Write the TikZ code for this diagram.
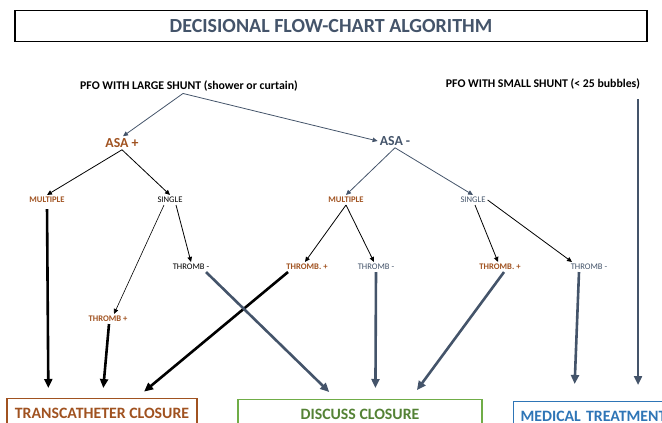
\documentclass[tikz,border=0pt]{standalone}
\usepackage{fontspec}
\setmainfont{Carlito}
\usetikzlibrary{arrows.meta,positioning}
\definecolor{slate}{RGB}{68,84,106}
\definecolor{rust}{RGB}{160,82,32}
\definecolor{leaf}{RGB}{112,173,71}
\definecolor{leaftext}{RGB}{84,130,53}
\definecolor{ocean}{RGB}{46,117,182}

\begin{document}
\begin{tikzpicture}[
   x=1pt, y=-1pt,
   headline/.style={draw, line width=1.8pt, minimum width=632pt, minimum height=31pt,
      font=\bfseries\fontsize{20}{23}\selectfont, text=slate},
   shunt/.style={font=\bfseries\fontsize{11.8}{14}\selectfont, inner sep=2pt},
   asa/.style={font=\bfseries\fontsize{13.8}{16}\selectfont, inner sep=2pt},
   small/.style={font=\fontsize{8.6}{10}\selectfont, inner sep=2pt},
   smallbold/.style={small, font=\bfseries\fontsize{8.6}{10}\selectfont, text=rust},
   outcome/.style={draw, line width=1.2pt, anchor=north, minimum height=30pt,
      font=\bfseries\fontsize{15.8}{18}\selectfont},
   thin/.style={-{Triangle[length=5pt, width=4.5pt]}, line width=0.8pt},
   thick/.style={-{Triangle[length=9pt, width=8pt]}, line width=2.6pt},
]
\useasboundingbox (0,0) rectangle (662,423);
\clip (0,0) rectangle (662,423);

\node[headline] (title) at (331,26) {DECISIONAL FLOW-CHART ALGORITHM};

\node[shunt] (large) at (189,86) {PFO WITH LARGE SHUNT (shower or curtain)};
\node[shunt] (smallsh) at (543,84) {PFO WITH SMALL SHUNT (< 25 bubbles)};

\node[asa, text=rust] (asap) at (122,143) {ASA +};
\node[asa, text=slate] (asam) at (395,141) {ASA -};

\node[smallbold] (multL) at (47,200) {MULTIPLE};
\node[small] (singL) at (170,200) {SINGLE};
\node[smallbold] (multR) at (346,200) {MULTIPLE};
\node[small, text=slate] (singR) at (473,200) {SINGLE};

\node[smallbold] (tpA) at (108,319) {THROMB +};
\node[small] (tmA) at (191,267) {THROMB -};
\node[smallbold] (tpB) at (307,267) {THROMB. +};
\node[small, text=slate] (tmB) at (376,267) {THROMB -};
\node[smallbold] (tpC) at (500,267) {THROMB. +};
\node[small, text=slate] (tmC) at (589,267) {THROMB -};

\node[outcome, draw=rust, text=rust, minimum width=190pt] (trans) at (102,398)
   {TRANSCATHETER CLOSURE};
\node[outcome, draw=leaf, text=leaftext, minimum width=244pt] (discuss) at (360,399)
   {DISCUSS CLOSURE};
\node[outcome, draw=ocean, text=ocean, anchor=north west, text width=180pt,
   align=left, inner xsep=7pt] (medical) at (513,401) {MEDICAL TREATMENT};
\coordinate (smallend) at ([xshift=125pt]medical.north west);

% first level
\draw[thin, slate] ([xshift=-6pt]large.south) -- ([xshift=1pt]asap.north);
\draw[thin, slate] ([xshift=-6pt]large.south) -- (asam.west);
\draw[thin] (asap.south) -- (multL.north);
\draw[thin] (asap.south) -- (singL.north);
\draw[thin, slate] (asam.south) -- (multR.north);
\draw[thin, slate] (asam.south) -- (singR.north);

% second level
\draw[thin, line width=0.6pt] ([xshift=-6pt]singL.south) -- ([xshift=6pt]tpA.north);
\draw[thin] ([xshift=6pt]singL.south) -- (tmA.north);
\draw[thin] (multR.south) -- ([xshift=-2pt]tpB.north);
\draw[thin] (multR.south) -- ([xshift=-2pt]tmB.north);
\draw[thin] ([xshift=2pt]singR.south) -- ([xshift=-2pt]tpC.north);
\draw[thin] (singR.east) -- ([xshift=-17pt]tmC.north);

% outcomes
\draw[thick, shorten <=4pt, shorten >=10pt] (multL.south) -- ([xshift=42pt]trans.north west);
\draw[thick, shorten >=10pt] ([xshift=1pt]tpA.south) -- ([xshift=96pt]trans.north west);
\draw[thick, shorten >=10pt] ([xshift=-19pt]tpB.south) -- ([xshift=130pt]trans.north west);
\draw[thick, slate, shorten >=10pt] ([xshift=15pt]tmA.south) -- ([xshift=99pt]discuss.north west);
\draw[thick, slate, shorten >=11pt] (tmB.south) -- ([xshift=138pt]discuss.north west);
\draw[thick, slate, shorten >=11pt] ([xshift=4pt]tpC.south) -- ([xshift=173pt]discuss.north west);
\draw[thick, slate, shorten >=17pt] ([xshift=-10pt]tmC.south) -- ([xshift=61pt]medical.north west);
\draw[thick, slate, shorten <=8pt, shorten >=16pt] (smallsh.south -| smallend) -- (smallend);
\end{tikzpicture}
\end{document}
